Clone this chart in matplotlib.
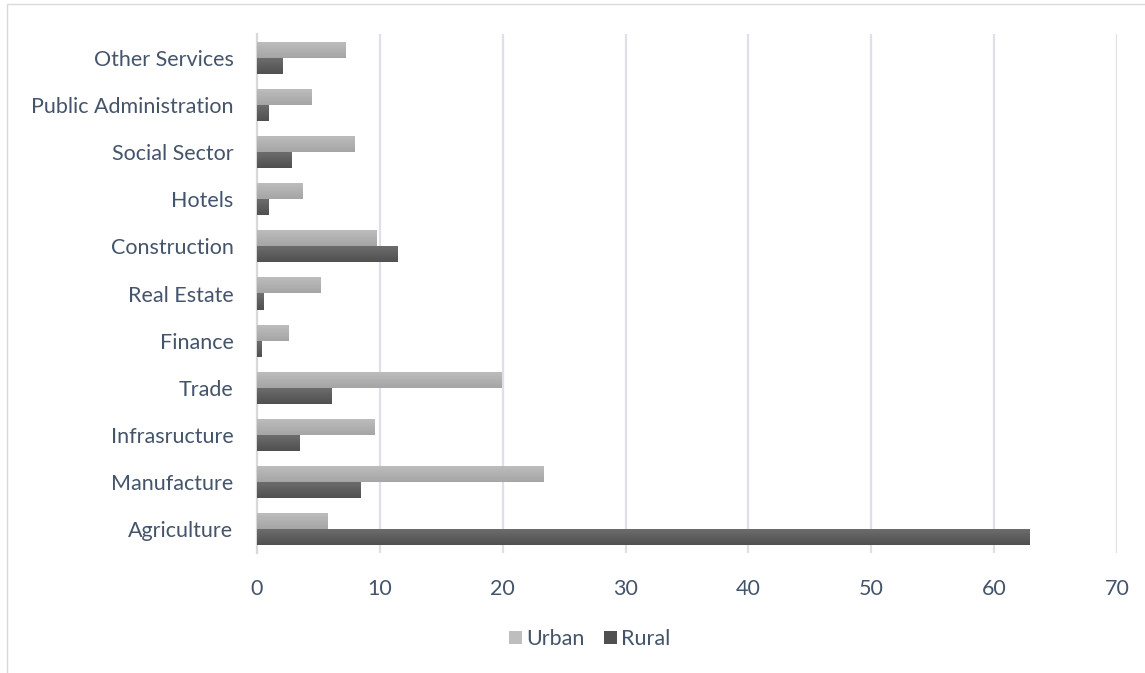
#!/usr/bin/env python3
"""Employment share by sector, urban vs rural, as grouped horizontal bars."""

import matplotlib
matplotlib.use("Agg")
import matplotlib.pyplot as plt
import numpy as np
from matplotlib.patches import Rectangle

sectors = ["Agriculture", "Manufacture", "Infrasructure", "Trade", "Finance",
           "Real Estate", "Construction", "Hotels", "Social Sector",
           "Public Administration", "Other Services"]
urban = [5.7, 23.3, 9.6, 19.9, 2.6, 5.2, 9.7, 3.7, 7.9, 4.4, 7.2]
rural = [62.9, 8.4, 3.5, 6.1, 0.4, 0.5, 11.4, 0.9, 2.8, 0.9, 2.1]
x_ticks = [0, 10, 20, 30, 40, 50, 60, 70]

TEXT = "#44546A"
GRID = "#DDE1E7"
URBAN_SHADE = ("#BEBEBE", "#A5A5A5")   # top -> bottom
RURAL_SHADE = ("#6E6E6E", "#505050")

plt.rcParams["font.family"] = ["Lato", "DejaVu Sans"]

fig = plt.figure(figsize=(11.45, 6.73), dpi=100)
ax = fig.add_axes([257 / 1145, 1 - 553 / 673, 860 / 1145, 519 / 673])

# thin outer chart border
fig.add_artist(Rectangle((7 / 1145, -0.1), 1.2, 1 - 4 / 673 + 0.1,
                         transform=fig.transFigure, fill=False,
                         edgecolor="#D9D9D9", linewidth=1.0))

y = np.arange(len(sectors))
h = 0.34


def shade(bars, colors):
    """Paint each bar with a soft vertical gradient."""
    cmap = matplotlib.colors.LinearSegmentedColormap.from_list("g", colors)
    grad = np.linspace(0, 1, 64).reshape(-1, 1)
    for b in bars:
        x0, y0 = b.get_x(), b.get_y()
        w, hh = b.get_width(), b.get_height()
        im = ax.imshow(grad, cmap=cmap, aspect="auto", origin="upper",
                       extent=(x0, x0 + w, y0, y0 + hh), zorder=3,
                       interpolation="bilinear")
        im.set_clip_path(b)
        b.set_facecolor("none")


bu = ax.barh(y + h / 2, urban, height=h, color=URBAN_SHADE[1], zorder=3,
             label="Urban", linewidth=0)
br = ax.barh(y - h / 2, rural, height=h, color=RURAL_SHADE[1], zorder=3,
             label="Rural", linewidth=0)
shade(bu, URBAN_SHADE)
shade(br, RURAL_SHADE)

ax.set_xlim(0, 70)
ax.set_ylim(-0.5, len(sectors) - 0.5)
ax.set_xticks(x_ticks)
ax.set_yticks(y)
ax.set_yticklabels(sectors)
ax.tick_params(axis="both", length=0, labelsize=15.5, colors=TEXT)
ax.tick_params(axis="y", pad=17)
ax.tick_params(axis="x", pad=19)

ax.grid(axis="x", color=GRID, linewidth=1.6)
ax.set_axisbelow(True)
for side in ("top", "right", "bottom"):
    ax.spines[side].set_visible(False)
ax.spines["left"].set_color("#D9D9D9")
ax.spines["left"].set_linewidth(1.6)

handles = [Rectangle((0, 0), 1, 1, facecolor=URBAN_SHADE[0]),
           Rectangle((0, 0), 1, 1, facecolor=RURAL_SHADE[1])]
fig.legend(handles, ["Urban", "Rural"], loc="center",
           bbox_to_anchor=(590 / 1145, 1 - 639 / 673), ncol=2, frameon=False,
           fontsize=15.5, labelcolor=TEXT, handlelength=0.6, handleheight=0.6,
           handletextpad=0.2, columnspacing=0.9)

fig.savefig("out.png", dpi=100, facecolor="white")
